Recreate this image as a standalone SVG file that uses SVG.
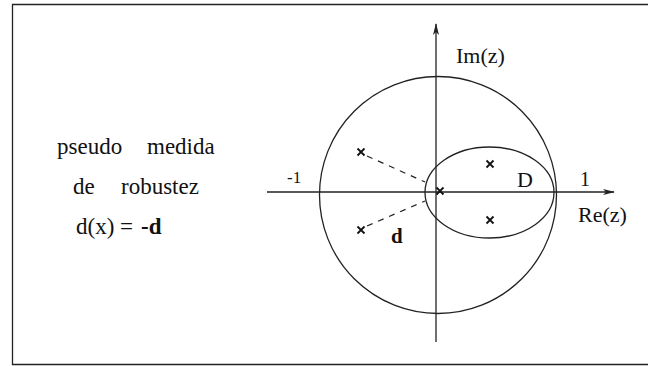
<svg xmlns="http://www.w3.org/2000/svg" width="648" height="366" viewBox="0 0 648 366">
<defs>
<style>
.t{font-family:"Liberation Serif","Times New Roman",serif;font-size:23px;fill:#111}
.b{font-weight:bold}
.ln{stroke:#222;stroke-width:1.3;fill:none}
.ds{stroke:#222;stroke-width:1.2;fill:none;stroke-dasharray:6,6}
.x{stroke:#111;stroke-width:1.8}
</style>
<marker id="ah" viewBox="0 0 12 8" refX="11" refY="4" markerWidth="12" markerHeight="8" markerUnits="userSpaceOnUse" orient="auto">
<path d="M0,1 L12,4 L0,7 L3,4 Z" fill="#222"/>
</marker>
<g id="cross"><path class="x" d="M-3.5,-3.5 L3.5,3.5 M-3.5,3.5 L3.5,-3.5"/></g>
</defs>
<rect width="648" height="366" fill="#fff"/>
<g id="frame" class="ln">
<path d="M648,4.5 L12.5,4.5 L12.5,364.5 L648,364.5"/>
</g>
<g id="label">
<text class="t" x="57" y="154">pseudo</text>
<text class="t" x="147" y="154">medida</text>
<text class="t" x="73" y="194">de</text>
<text class="t" x="121" y="194">robustez</text>
<text class="t" x="76" y="234">d(x) =</text>
<text class="t b" x="141" y="234">-d</text>
</g>
<g id="connectors">
<line class="ln" x1="436" y1="342" x2="436" y2="24" marker-end="url(#ah)"/>
<line class="ln" x1="267" y1="192" x2="614" y2="192" marker-end="url(#ah)"/>
<line class="ds" x1="367" y1="156" x2="425" y2="182"/>
<line class="ds" x1="367" y1="226" x2="425" y2="201"/>
</g>
<g id="unit-circle">
<circle class="ln" cx="438" cy="195" r="118.5"/>
</g>
<g id="region-D">
<ellipse class="ln" cx="489.5" cy="192.5" rx="64.5" ry="45.5"/>
<text class="t" style="font-size:22px" x="517" y="187">D</text>
</g>
<g id="poles">
<use href="#cross" x="361" y="152"/>
<use href="#cross" x="361" y="230"/>
<use href="#cross" x="440" y="191"/>
<use href="#cross" x="490" y="164"/>
<use href="#cross" x="490" y="220"/>
</g>
<g id="axis-labels">
<text class="t" style="font-size:22px" x="456" y="63">Im(z)</text>
<text class="t" style="font-size:22px" x="578" y="222">Re(z)</text>
<text class="t" style="font-size:20px" x="580" y="186">1</text>
<text class="t" style="font-size:17px" x="287" y="183">-1</text>
<text class="t b" style="font-size:21px" x="391" y="243">d</text>
</g>
</svg>
